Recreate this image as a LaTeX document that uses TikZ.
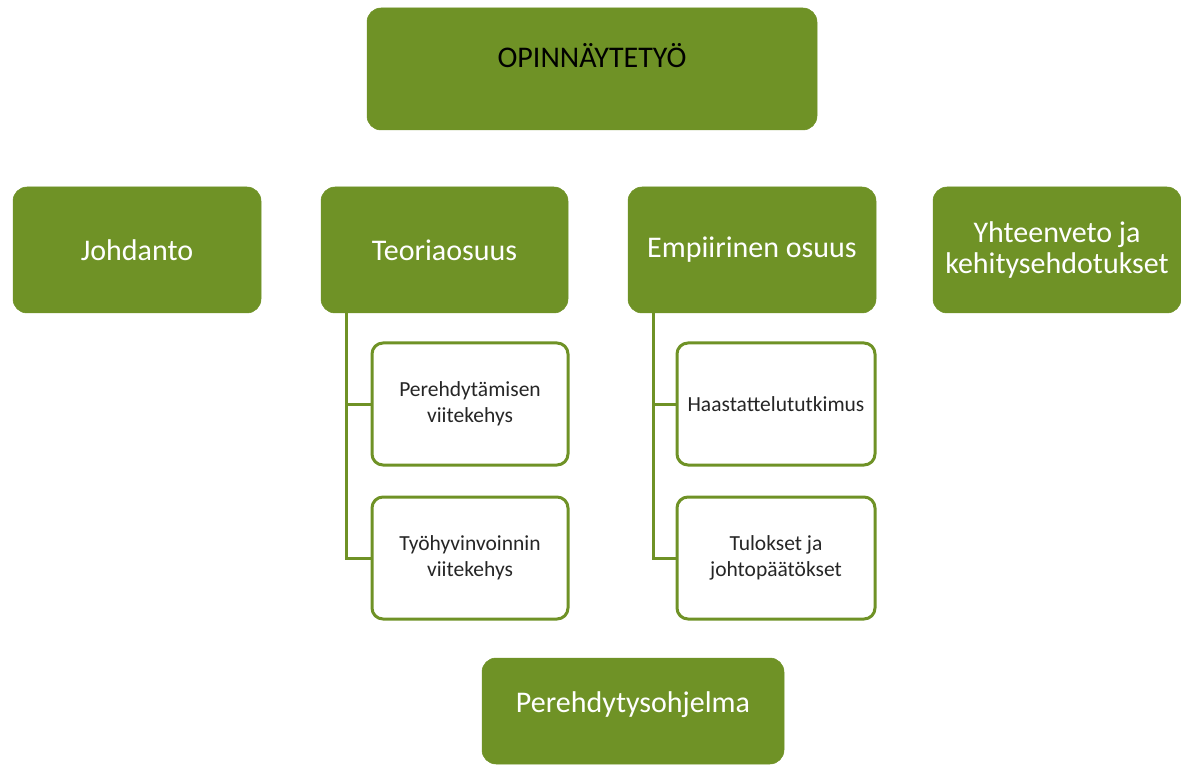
\documentclass[tikz,border=0pt]{standalone}
\usepackage{fontspec}
\setmainfont{Carlito}
\definecolor{olive}{HTML}{6F9226}
\begin{document}
\begin{tikzpicture}[x=1pt,y=-1pt,
  greenbox/.style={draw=olive, fill=olive, rounded corners=14pt, text=white, font=\fontsize{30}{31}\selectfont, align=center, inner sep=0pt, line width=0.5pt},
  whitebox/.style={draw=olive, fill=white, rounded corners=11pt, text=black!85, font=\fontsize{21.5}{25.5}\selectfont, align=center, inner sep=0pt, line width=3pt},
  conn/.style={draw=olive, line width=3pt}]
\useasboundingbox (0,0) rectangle (1181,767);
\node[greenbox, minimum width=450pt, minimum height=122pt, text=black, font=\fontsize{30}{31}\selectfont, text height=22pt, text depth=24pt] (top) at (592,69) {OPINNÄYTETYÖ};
\node[greenbox, minimum width=248pt, minimum height=126pt] (joh) at (137,250) {Johdanto};
\node[greenbox, minimum width=247pt, minimum height=126pt] (teo) at (444.5,250) {Teoriaosuus};
\node[greenbox, minimum width=248pt, minimum height=126pt] (emp) at (752,250) {Empiirinen osuus};
\node[greenbox, minimum width=248pt, minimum height=126pt] (yht) at (1057,250) {Yhteenveto ja\\kehitysehdotukset};
\node[whitebox, minimum width=196pt, minimum height=122pt] (pv) at (470,404) {Perehdytämisen\\viitekehys};
\node[whitebox, minimum width=196pt, minimum height=122pt] (tv) at (470,558) {Työhyvinvoinnin\\viitekehys};
\node[whitebox, minimum width=198pt, minimum height=122pt] (haa) at (776,404) {Haastattelututkimus};
\node[whitebox, minimum width=198pt, minimum height=122pt] (tul) at (776,558) {Tulokset ja\\johtopäätökset};
\node[greenbox, minimum width=302pt, minimum height=106pt, text height=21pt, text depth=19pt] (per) at (633,711) {Perehdytysohjelma};
\coordinate (tc) at (346,313);
\coordinate (ec) at (653,313);
\draw[conn] (tc) |- (pv.west);
\draw[conn] (tc) |- (tv.west);
\draw[conn] (ec) |- (haa.west);
\draw[conn] (ec) |- (tul.west);
\end{tikzpicture}
\end{document}
